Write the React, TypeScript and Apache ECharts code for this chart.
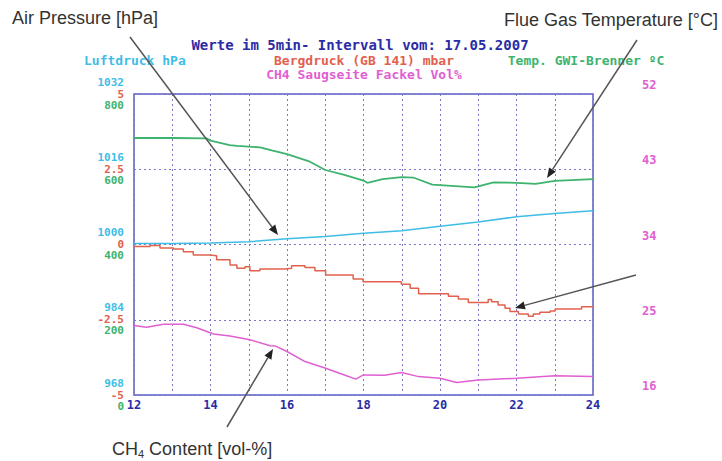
import React, { useEffect, useRef } from "react";
import * as echarts from "echarts";

// ---- data (hours of day 17.05.2007) ----
const hourTicks = [12, 14, 16, 18, 20, 22, 24];

const luftdruck: [number, number][] = [
  [12, 1000.2], [13, 1000.2], [14, 1000.3], [15, 1000.6], [16, 1001.2], [17, 1001.7],
  [18, 1002.4], [19, 1002.9], [20, 1003.9], [21, 1004.8], [22, 1005.9], [23, 1006.6], [24, 1007.2],
];

const temperatur: [number, number][] = [
  [12, 683], [13, 683], [13.9, 682], [14, 676], [14.5, 664], [14.7, 662], [15.3, 658], [15.6, 650],
  [16, 640], [16.6, 620], [17, 598], [17.5, 585], [18, 570], [18.1, 564], [18.5, 574], [19, 579],
  [19.3, 578], [19.8, 559], [20, 558], [20.9, 552], [21.4, 565], [22, 564], [22.5, 561], [23, 569], [24, 574],
];

const bergdruck: [number, number][] = [
  [12.0, -0.07], [12.42, -0.03], [12.68, -0.12], [13.03, -0.15], [13.29, -0.24], [13.55, -0.35],
  [13.99, -0.37], [14.16, -0.51], [14.51, -0.68], [14.69, -0.79], [14.9, -0.74], [15.03, -0.87],
  [15.29, -0.81], [15.95, -0.79], [16.12, -0.71], [16.47, -0.76], [16.73, -0.87], [17.01, -1.01],
  [17.73, -1.15], [17.99, -1.24], [18.99, -1.32], [19.22, -1.45], [19.44, -1.64], [20.22, -1.72],
  [20.48, -1.81], [20.74, -1.93], [21.26, -1.83], [21.35, -1.9], [21.52, -2.01], [21.7, -2.12],
  [21.83, -2.23], [22.05, -2.31], [22.31, -2.38], [22.44, -2.31], [22.61, -2.25], [22.88, -2.21],
  [23.01, -2.14], [23.7, -2.07], [24, -2.07],
];

const ch4: [number, number][] = [
  [12, 24.3], [12.33, 24.1], [12.77, 24.45], [13.29, 24.45], [13.64, 24.05], [14.08, 23.3],
  [14.51, 23.05], [15.03, 22.6], [15.56, 21.9], [15.7, 21.85], [16, 21.2], [16.47, 20.0],
  [17.01, 19.2], [17.5, 18.4], [17.8, 17.9], [18, 18.4], [18.55, 18.35], [19, 18.7], [19.44, 18.2],
  [20, 18.0], [20.44, 17.5], [21, 17.8], [22, 18.0], [23, 18.3], [24, 18.2],
];

const luftdruckAxis = { min: 968, max: 1032, interval: 16 };
const bergdruckAxis = { min: -5, max: 5, interval: 2.5 };
const temperaturAxis = { min: 0, max: 800, interval: 200 };
const ch4Axis = { min: 16, max: 52, interval: 9 };

const title = "Werte im 5min- Intervall vom: 17.05.2007";
const legendLuft = "Luftdruck hPa";
const legendBerg = "Bergdruck (GB 141) mbar";
const legendCh4 = "CH4 Saugseite Fackel Vol%";
const legendTemp = "Temp. GWI-Brenner ºC";

const CYAN = "#3fbde6";
const RED = "#e2604e";
const GREEN = "#3db36e";
const MAGENTA = "#e05fd2";
const BLUE = "#2b2ba6";
const FRAME = "#5c5cc8";
const GRID = "#7a7ac4";
const MONO = "'DejaVu Sans Mono', monospace";
const ARIAL = "'Liberation Sans', Arial, sans-serif";

function arrow(x1: number, y1: number, x2: number, y2: number) {
  const dx = x2 - x1, dy = y2 - y1;
  const len = Math.sqrt(dx * dx + dy * dy);
  const ux = dx / len, uy = dy / len;
  const hl = 10, hw = 4;
  const bx = x2 - ux * hl, by = y2 - uy * hl;
  return [
    { type: "line", shape: { x1, y1, x2: bx, y2: by }, style: { stroke: "#555", lineWidth: 1.5 }, z: 100 },
    {
      type: "polygon",
      shape: { points: [[x2, y2], [bx - uy * hw, by + ux * hw], [bx + uy * hw, by - ux * hw]] },
      style: { fill: "#222" },
      z: 100,
    },
  ];
}

const leftAxis = (cfg: any, color: string, vAlign: string, lh: number, split: boolean) => ({
  type: "value",
  position: "left",
  min: cfg.min,
  max: cfg.max,
  interval: cfg.interval,
  axisLine: { show: false },
  axisTick: { show: false },
  splitLine: split ? { show: true, lineStyle: { color: GRID, type: [2, 3], width: 1 } } : { show: false },
  axisLabel: {
    color,
    fontFamily: MONO,
    fontWeight: "bold",
    fontSize: 11,
    margin: 10,
    verticalAlign: vAlign,
    lineHeight: lh,
    formatter: (v: number) => String(v),
  },
});

export default function App() {
  const ref = useRef<HTMLDivElement>(null);
  useEffect(() => {
    document.body.style.margin = "0";
    const chart = echarts.init(ref.current!, undefined, { renderer: "svg" });
    chart.setOption({
      animation: false,
      backgroundColor: "#ffffff",
      grid: { left: 134, top: 94, width: 459, height: 301, show: true, borderColor: FRAME, borderWidth: 1.5, backgroundColor: "transparent" },
      xAxis: {
        type: "value",
        min: 12,
        max: 24,
        interval: 1,
        axisLine: { show: false },
        axisTick: { show: false },
        splitLine: { show: true, lineStyle: { color: GRID, type: [2, 3], width: 1 } },
        axisLabel: {
          color: BLUE,
          fontFamily: MONO,
          fontWeight: "bold",
          fontSize: 12,
          margin: 4,
          formatter: (v: number) => (hourTicks.includes(v) ? String(v) : ""),
        },
      },
      yAxis: [
        leftAxis(luftdruckAxis, CYAN, "bottom", 24, false),
        leftAxis(bergdruckAxis, RED, "middle", 11, true),
        leftAxis(temperaturAxis, GREEN, "top", 22, false),
        {
          type: "value",
          position: "right",
          min: ch4Axis.min,
          max: ch4Axis.max,
          interval: ch4Axis.interval,
          axisLine: { show: false },
          axisTick: { show: false },
          splitLine: { show: false },
          axisLabel: { color: MAGENTA, fontFamily: MONO, fontWeight: "bold", fontSize: 12, margin: 49, verticalAlign: "bottom", lineHeight: 18 },
        },
      ],
      series: [
        { type: "line", name: legendLuft, yAxisIndex: 0, data: luftdruck, showSymbol: false, lineStyle: { color: CYAN, width: 1.5 }, itemStyle: { color: CYAN } },
        { type: "line", name: legendBerg, yAxisIndex: 1, data: bergdruck, step: "end", showSymbol: false, lineStyle: { color: RED, width: 1.5 }, itemStyle: { color: RED } },
        { type: "line", name: legendTemp, yAxisIndex: 2, data: temperatur, showSymbol: false, lineStyle: { color: GREEN, width: 1.8 }, itemStyle: { color: GREEN } },
        { type: "line", name: legendCh4, yAxisIndex: 3, data: ch4, showSymbol: false, lineStyle: { color: MAGENTA, width: 1.5 }, itemStyle: { color: MAGENTA } },
      ],
      graphic: [
        { type: "text", x: 360, y: 45, style: { text: title, fill: BLUE, font: `bold 14px ${MONO}`, align: "center", verticalAlign: "middle" } },
        { type: "text", x: 84, y: 60, style: { text: legendLuft, fill: CYAN, font: `bold 13px ${MONO}`, align: "left", verticalAlign: "middle" } },
        { type: "text", x: 364, y: 60, style: { text: legendBerg, fill: RED, font: `bold 13px ${MONO}`, align: "center", verticalAlign: "middle" } },
        { type: "text", x: 364, y: 74, style: { text: legendCh4, fill: MAGENTA, font: `bold 13px ${MONO}`, align: "center", verticalAlign: "middle" } },
        { type: "text", x: 586, y: 60, style: { text: legendTemp, fill: GREEN, font: `bold 13px ${MONO}`, align: "center", verticalAlign: "middle" } },
        { type: "text", x: 12, y: 18, style: { text: "Air Pressure [hPa]", fill: "#333", font: `18px ${ARIAL}`, align: "left", verticalAlign: "middle" } },
        { type: "text", x: 718, y: 20, style: { text: "Flue Gas Temperature [°C]", fill: "#333", font: `18px ${ARIAL}`, align: "right", verticalAlign: "middle" } },
        {
          type: "text",
          x: 112,
          y: 438,
          style: {
            text: "{a|CH}{s|4}{a| Content [vol-%]}",
            fill: "#333",
            align: "left",
            verticalAlign: "top",
            rich: {
              a: { fontSize: 18, fontFamily: ARIAL, fill: "#333", lineHeight: 22 },
              s: { fontSize: 11, fontFamily: ARIAL, fill: "#333", lineHeight: 22, padding: [10, 0, 0, 0] },
            },
          },
        },
        ...arrow(130, 37, 278, 235),
        ...arrow(637, 40, 547, 178),
        ...arrow(636, 275, 515, 308),
        ...arrow(227, 427, 273, 349),
      ],
    });
    return () => chart.dispose();
  }, []);
  return <div ref={ref} style={{ width: 722, height: 461 }} />;
}
